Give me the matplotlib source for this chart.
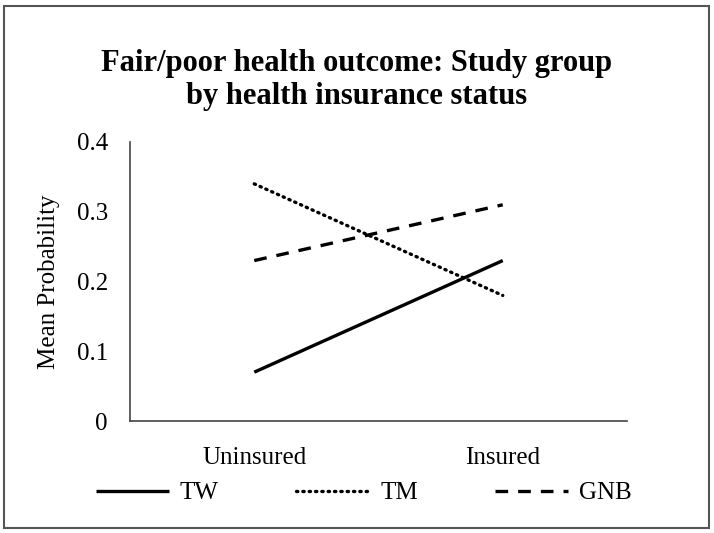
import matplotlib
matplotlib.use('Agg')
import matplotlib.pyplot as plt
from matplotlib.patches import Rectangle

plt.rcParams['font.family'] = ['Liberation Serif', 'DejaVu Serif']

# data
groups = ['Uninsured', 'Insured']
tw = [0.07, 0.23]
tm = [0.34, 0.18]
gnb = [0.23, 0.31]
yticks = [0, 0.1, 0.2, 0.3, 0.4]
ytick_labels = ['0', '0.1', '0.2', '0.3', '0.4']

fig = plt.figure(figsize=(7.14, 5.33), dpi=100)
ax = fig.add_axes([130/714, 1 - 421/533, (627-130)/714, 279/533])

x = list(range(len(groups)))
ax.plot(x, tw, color='black', lw=2.4, solid_capstyle='butt', label='TW')
ax.plot(x, tm, color='black', lw=2.4, linestyle=(0, (0.4, 1.5)),
        dash_capstyle='round', label='TM')
ax.plot(x, gnb, color='black', lw=2.4, linestyle=(0, (3.8, 3.0)),
        dash_capstyle='butt', label='GNB')

ax.set_xlim(-0.5, 1.5)
ax.set_ylim(0, 0.4)
ax.set_xticks(x)
ax.set_xticklabels(groups, fontsize=18)
ax.set_yticks(yticks)
ax.set_yticklabels(ytick_labels, fontsize=18)
ax.tick_params(length=0)
ax.tick_params(axis='y', pad=16)
ax.tick_params(axis='x', pad=19)
for s in ['top', 'right']:
    ax.spines[s].set_visible(False)
for s in ['left', 'bottom']:
    ax.spines[s].set_color('#444444')
    ax.spines[s].set_linewidth(1.2)

ax.set_ylabel('Mean Probability', fontsize=18, labelpad=12)

fig.text(357/714, 1 - 80/533, 'Fair/poor health outcome: Study group\nby health insurance status',
         ha='center', va='center', fontsize=22, fontweight='bold', linespacing=1.15)

fig.legend(loc='center', bbox_to_anchor=(364/714, 1 - 493/533), ncol=3,
           frameon=False, fontsize=18, handlelength=2.9, handletextpad=0.45,
           columnspacing=3.1)

# outer frame
fig.patches.append(Rectangle((4/714, 5/533), 705/714, 522/533, transform=fig.transFigure,
                             fill=False, edgecolor='#555555', lw=1.5))

fig.savefig('out.png', dpi=100)
